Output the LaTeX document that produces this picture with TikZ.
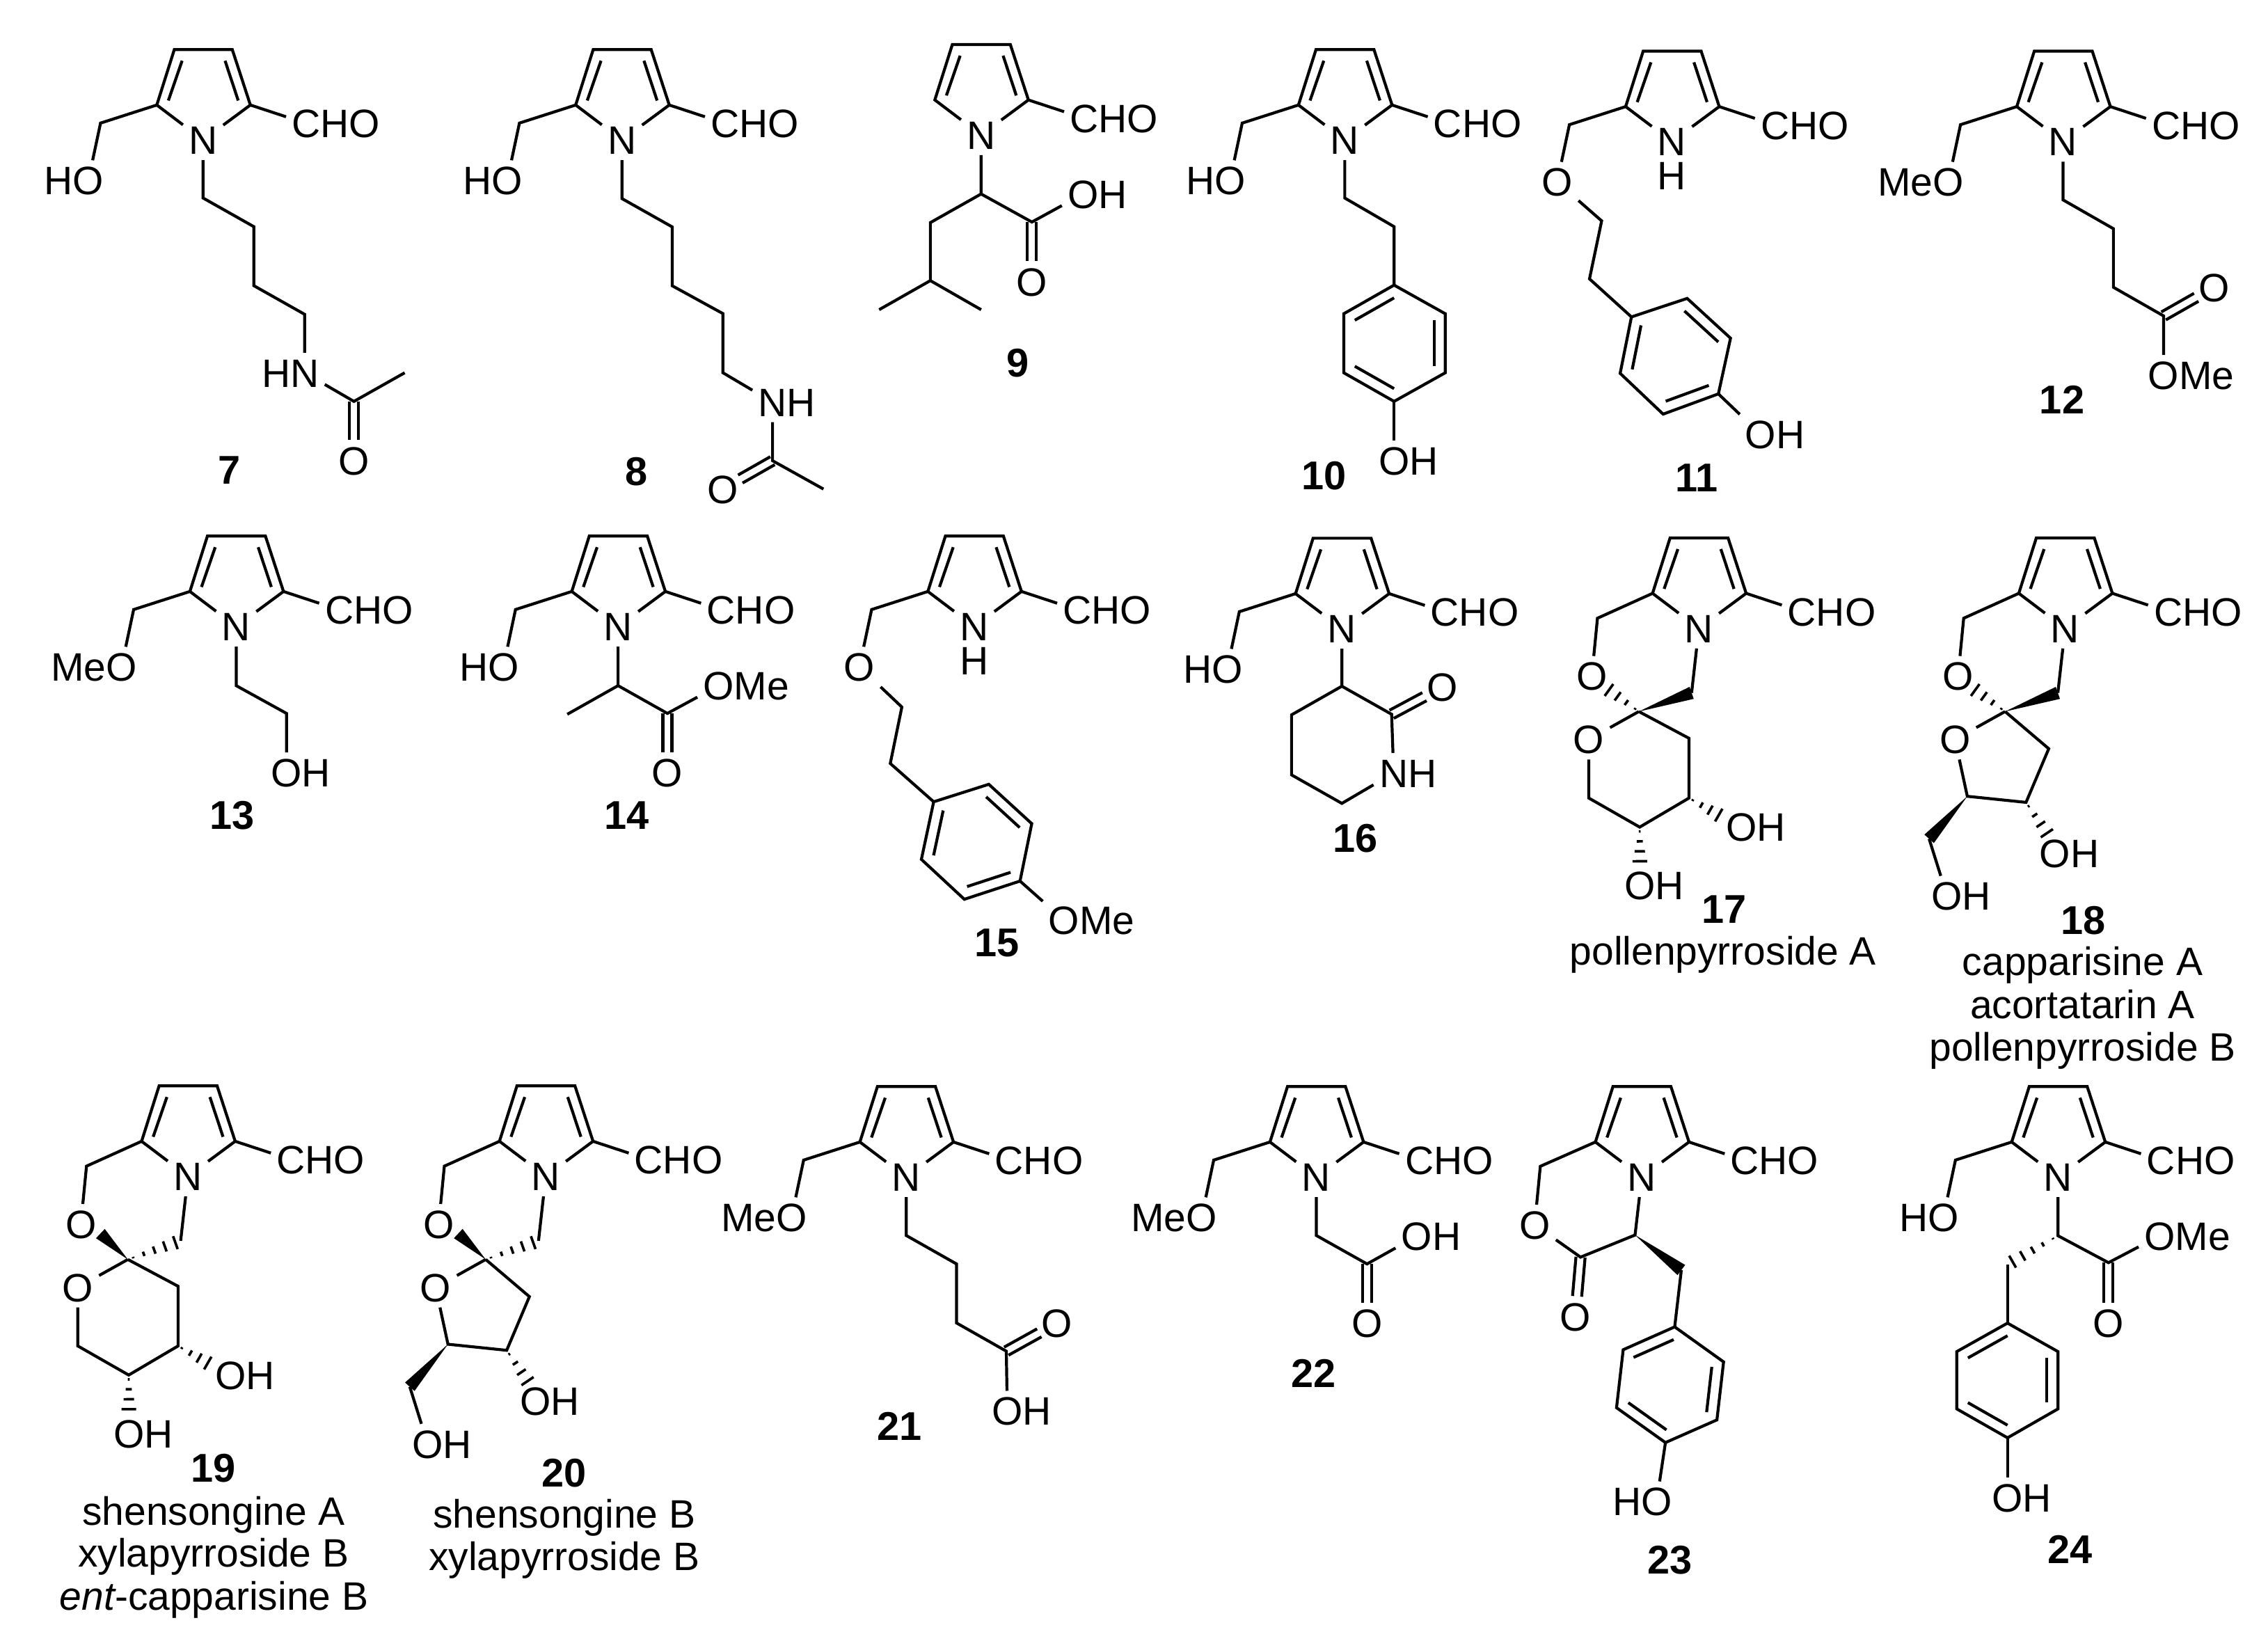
\documentclass[tikz,border=0pt]{standalone}
\usepackage{fontspec}
\setmainfont{Liberation Sans}
\usetikzlibrary{calc}
\tikzset{
  bond/.style={line width=1.15pt,black},
  hashline/.style={line width=1pt,black},
  atm/.style={font=\fontsize{15.6}{18}\selectfont,text height=11.2pt,text depth=0pt,inner sep=2.3pt,outer sep=0pt},
  cpd/.style={font=\fontsize{15.8}{18}\selectfont\bfseries,text height=11.2pt,text depth=0pt,inner sep=0pt},
  nm/.style={font=\fontsize{15.6}{18}\selectfont,anchor=base,inner sep=0pt}
}
\newcommand\vtx[2]{\coordinate (#1) at (#2);}
\newcommand\atm[3]{\node[atm] (#1) at (#2) {#3};}
\newcommand\dbl[2]{%
  \draw[bond,shorten >=8pt] ($(#1)!1.8pt!90:(#2)$) -- ($(#2)!1.8pt!-90:(#1)$);
  \draw[bond,shorten >=8pt] ($(#1)!1.8pt!-90:(#2)$) -- ($(#2)!1.8pt!90:(#1)$);}
\newcommand\wedgebond[2]{\fill[black] (#1) -- ($(#2)!2.5pt!90:(#1)$) -- ($(#2)!2.5pt!-90:(#1)$) -- cycle;}
\newcommand\hashbond[3][.12,.4,.68,.96]{%
  \foreach \hh in {#1}{%
    \pgfmathsetlengthmacro\hw{\hh*3pt}%
    \draw[hashline] ($(#2)!\hh!(#3)!\hw!90:(#3)$) -- ($(#2)!\hh!(#3)!\hw!-90:(#3)$);}}
\newcommand\lowH{\llap{\raisebox{-13.3pt}{H}}}
\newcommand\pyrrole[2][]{%
  \atm{#2N}{0,0}{N#1}
  \vtx{#2c2}{-32,-24.2}\vtx{#2c3}{-19.9,-62.5}\vtx{#2c4}{20.2,-62.5}\vtx{#2c5}{32.7,-24.2}
  \vtx{#2i1}{-14.5,-54.8}\vtx{#2i2}{-24,-27.3}\vtx{#2i3}{15.2,-54.8}\vtx{#2i4}{24.3,-27.3}
  \atm{#2cho}{71.3,-11.5}{C\rlap{HO}}
  \draw[bond] (#2N) -- (#2c2) -- (#2c3) -- (#2c4) -- (#2c5) -- (#2N);
  \draw[bond] (#2c5) -- (#2cho);
  \draw[bond] (#2i1) -- (#2i2);
  \draw[bond] (#2i3) -- (#2i4);}
\newcommand\arm[2]{%
  \vtx{#1ch}{-70.9,-11.7}
  \atm{#1oa}{-79.3,27.9}{\llap{#2}O}
  \draw[bond] (#1c2) -- (#1ch) -- (#1oa);}
\newcommand\benzene[7]{%
  \vtx{#1v1}{#2}\vtx{#1v2}{#3}\vtx{#1v3}{#4}\vtx{#1v4}{#5}\vtx{#1v5}{#6}\vtx{#1v6}{#7}
  \coordinate (#1ctr) at ($(#1v1)!.5!(#1v4)$);
  \draw[bond] (#1v1) -- (#1v2) -- (#1v3) -- (#1v4) -- (#1v5) -- (#1v6) -- cycle;
  \draw[bond] ($(#1v1)!.22!(#1ctr)$) -- ($(#1v6)!.22!(#1ctr)$);
  \draw[bond] ($(#1v2)!.22!(#1ctr)$) -- ($(#1v3)!.22!(#1ctr)$);
  \draw[bond] ($(#1v4)!.22!(#1ctr)$) -- ($(#1v5)!.22!(#1ctr)$);}
\newcommand\spirocore[1]{%
  \vtx{#1ch}{-70.1,-7}\vtx{#1sp}{-41.5,57.5}\vtx{#1chb}{-5,44.6}
  \vtx{#1he}{-63,42}\vtx{#1we}{-60.5,39.6}
  \atm{#1oa}{-74,33}{O}
  \atm{#1ro}{-76.1,76.8}{O}
  \draw[bond] (#1c2) -- (#1ch) -- (#1oa);
  \draw[bond] (#1N) -- (#1chb);
  \draw[bond] (#1sp) -- (#1ro);}
\newcommand\sixring[1]{%
  \vtx{#1r1}{-6.8,76}\vtx{#1r2}{-6.8,117.3}\vtx{#1r3}{-40.9,137.4}\vtx{#1r4}{-76.1,117.3}
  \vtx{#1e1}{14.6,129.6}\vtx{#1e2}{-40.8,162}
  \atm{#1oh1}{29.5,137.4}{O\rlap{H}}
  \atm{#1oh2}{-40.6,177.8}{O\rlap{H}}
  \draw[bond] (#1sp) -- (#1r1) -- (#1r2) -- (#1r3) -- (#1r4) -- (#1ro);
  \hashbond{#1r2}{#1e1}
  \hashbond{#1r3}{#1e2}}
\newcommand\fivering[1]{%
  \vtx{#1r1}{-11.3,83.2}\vtx{#1r2}{-27,120.3}\vtx{#1r3}{-67.6,116.1}\vtx{#1w}{-94,145.5}
  \vtx{#1e1}{-12,142.5}
  \atm{#1oh1}{-7,155.4}{O\rlap{H}}
  \atm{#1oh2}{-81.6,185}{O\rlap{H}}
  \draw[bond] (#1sp) -- (#1r1) -- (#1r2) -- (#1r3) -- (#1ro);
  \wedgebond{#1r3}{#1w}
  \draw[bond] (#1w) -- (#1oh2);
  \hashbond{#1r2}{#1e1}}
\begin{document}
\begin{tikzpicture}[x=0.02cm,y=-0.02cm]
\path[use as bounding box,fill=white] (0,0) rectangle (1568,1139.3);

% 7
\begin{scope}[shift={(140.4,96.8)}]
\pyrrole{m7}\arm{m7}{H}
\vtx{m7a}{0,40.1}\vtx{m7b}{35.1,59.9}\vtx{m7c}{35.1,100.7}\vtx{m7d}{70.2,120.5}
\vtx{m7e}{104.3,180.7}\vtx{m7f}{139.4,160.9}
\atm{m7n}{70.2,160.9}{\llap{H}N}
\atm{m7o}{104.3,221.5}{O}
\draw[bond] (m7N) -- (m7a) -- (m7b) -- (m7c) -- (m7d) -- (m7n);
\draw[bond] (m7n) -- (m7e) -- (m7f);
\dbl{m7e}{m7o}
\end{scope}
\node[cpd] (lab7) at (158.6,324.6) {7};

% 8
\begin{scope}[shift={(430,96.8)}]
\pyrrole{m8}\arm{m8}{H}
\vtx{m8a}{0,40.5}\vtx{m8b}{34.8,60.1}\vtx{m8c}{34.8,100.8}\vtx{m8d}{69.8,120}\vtx{m8e}{69.8,160.9}
\vtx{m8f}{104.1,221.7}\vtx{m8g}{139.3,241.3}
\atm{m8n}{104.1,181.2}{N\rlap{H}}
\atm{m8o}{69.6,241.3}{O}
\draw[bond] (m8N) -- (m8a) -- (m8b) -- (m8c) -- (m8d) -- (m8e) -- (m8n);
\draw[bond] (m8n) -- (m8f) -- (m8g);
\dbl{m8f}{m8o}
\end{scope}
\node[cpd] (lab8) at (440.2,325.8) {8};

% 9
\begin{scope}[shift={(678.3,93.3)}]
\pyrrole{m9}
\vtx{m9a}{0,40.8}\vtx{m9b}{35.1,60.2}\vtx{m9c}{-35.1,60.6}\vtx{m9d}{-35.1,100.7}
\vtx{m9e}{-70.5,120.8}\vtx{m9f}{0,120.8}
\atm{m9oh}{70.5,40.8}{O\rlap{H}}
\atm{m9o}{35.1,101.4}{O}
\draw[bond] (m9N) -- (m9a) -- (m9b) -- (m9oh);
\draw[bond] (m9a) -- (m9c) -- (m9d) -- (m9e);
\draw[bond] (m9d) -- (m9f);
\dbl{m9b}{m9o}
\end{scope}
\node[cpd] (lab9) at (703.9,250.6) {9};

% 10
\begin{scope}[shift={(929.7,96.8)}]
\pyrrole{m10}\arm{m10}{H}
\vtx{m10a}{0,40.1}\vtx{m10b}{34.1,59.9}
\benzene{m10}{34.1,100.3}{69.5,120.1}{69.5,160.9}{34.1,180.7}{-.7,160.9}{-.7,120.1}
\atm{m10oh}{34.1,221.5}{O\rlap{H}}
\draw[bond] (m10N) -- (m10a) -- (m10b) -- (m10v1);
\draw[bond] (m10v4) -- (m10oh);
\end{scope}
\node[cpd] (lab10) at (915.2,328.7) {10};

% 11
\begin{scope}[shift={(1155.9,97.9)}]
\pyrrole[\lowH]{m11}\arm{m11}{}
\vtx{m11a}{-48.6,54.8}\vtx{m11b}{-57,94.9}
\benzene{m11}{-28,121.2}{10.5,108.4}{40.5,135.9}{32.1,174.4}{-6.1,188.4}{-35.8,160.2}
\atm{m11oh}{61.4,202.4}{O\rlap{H}}
\draw[bond] (m11oa) -- (m11a) -- (m11b) -- (m11v1);
\draw[bond] (m11v4) -- (m11oh);
\end{scope}
\node[cpd] (lab11) at (1172.8,329.9) {11};

% 12
\begin{scope}[shift={(1426.3,97.9)}]
\pyrrole{m12}\arm{m12}{Me}
\vtx{m12a}{0,40.3}\vtx{m12b}{34.8,60.2}\vtx{m12c}{34.8,100.7}\vtx{m12d}{69.5,120.5}
\atm{m12o}{104.3,100.7}{O}
\atm{m12om}{69.5,161.3}{O\rlap{Me}}
\draw[bond] (m12N) -- (m12a) -- (m12b) -- (m12c) -- (m12d) -- (m12om);
\dbl{m12d}{m12o}
\end{scope}
\node[cpd] (lab12) at (1425.6,276.3) {12};

% 13
\begin{scope}[shift={(163.3,433.1)}]
\pyrrole{m13}\arm{m13}{Me}
\vtx{m13a}{0,40.9}\vtx{m13b}{34.8,60.1}
\atm{m13oh}{34.8,100.9}{O\rlap{H}}
\draw[bond] (m13N) -- (m13a) -- (m13b) -- (m13oh);
\end{scope}
\node[cpd] (lab13) at (160.3,563.2) {13};

% 14
\begin{scope}[shift={(427.3,433.1)}]
\pyrrole{m14}\arm{m14}{H}
\vtx{m14a}{0,40.9}\vtx{m14b}{-35.1,60.7}\vtx{m14c}{34.1,60.1}
\atm{m14om}{69.5,40.9}{O\rlap{Me}}
\atm{m14o}{34.1,100.9}{O}
\draw[bond] (m14N) -- (m14a) -- (m14b);
\draw[bond] (m14a) -- (m14c) -- (m14om);
\dbl{m14c}{m14o}
\end{scope}
\node[cpd] (lab14) at (433.3,563.2) {14};

% 15
\begin{scope}[shift={(673.5,433.1)}]
\pyrrole[\lowH]{m15}\arm{m15}{}
\vtx{m15a}{-50,55.7}\vtx{m15b}{-58,94.7}
\benzene{m15}{-28,121.2}{10.1,109.1}{39.8,136.3}{31.7,176}{-6.8,188.6}{-36.5,161}
\atm{m15om}{62.1,203}{O\rlap{Me}}
\draw[bond] (m15oa) -- (m15a) -- (m15b) -- (m15v1);
\draw[bond] (m15v4) -- (m15om);
\end{scope}
\node[cpd] (lab15) at (689.4,651.5) {15};

% 16
\begin{scope}[shift={(927.7,434.6)}]
\pyrrole{m16}\arm{m16}{H}
\vtx{m16a}{0,39.8}\vtx{m16b}{34.4,59.2}\vtx{m16c}{0,120.8}\vtx{m16d}{-34.8,101.1}\vtx{m16e}{-34.8,59.6}
\atm{m16o}{69.5,40.4}{O}
\atm{m16n}{35.8,99.8}{N\rlap{H}}
\draw[bond] (m16N) -- (m16a) -- (m16b) -- (m16n) -- (m16c) -- (m16d) -- (m16e) -- (m16a);
\dbl{m16b}{m16o}
\end{scope}
\node[cpd] (lab16) at (936.8,579.3) {16};

% 17
\begin{scope}[shift={(1174.5,434.4)}]
\pyrrole{m17}\spirocore{m17}\sixring{m17}
\wedgebond{m17sp}{m17chb}
\hashbond{m17sp}{m17he}
\end{scope}
\node[cpd] (lab17) at (1191.9,628.5) {17};
\node[nm] (nm17) at (1191.2,667.2) {pollenpyrroside A};

% 18
\begin{scope}[shift={(1427.7,434.4)}]
\pyrrole{m18}\spirocore{m18}\fivering{m18}
\wedgebond{m18sp}{m18chb}
\hashbond{m18sp}{m18he}
\end{scope}
\node[cpd] (lab18) at (1440.2,636) {18};
\node[nm] (nm18a) at (1439.8,674.1) {capparisine A};
\node[nm] (nm18b) at (1439.8,704) {acortatarin A};
\node[nm] (nm18c) at (1439.8,733.7) {pollenpyrroside B};

% 19
\begin{scope}[shift={(129.9,813.2)}]
\pyrrole{m19}\spirocore{m19}\sixring{m19}
\wedgebond{m19sp}{m19we}
\hashbond[.1,.3,.5,.7,.9]{m19sp}{m19chb}
\end{scope}
\node[cpd] (lab19) at (147.5,1014.9) {19};
\node[nm] (nm19a) at (147.6,1054.5) {shensongine A};
\node[nm] (nm19b) at (147.6,1083.2) {xylapyrroside B};
\node[nm] (nm19c) at (148,1112.9) {{\itshape ent}-capparisine B};

% 20
\begin{scope}[shift={(377.3,813.2)}]
\pyrrole{m20}\spirocore{m20}\fivering{m20}
\wedgebond{m20sp}{m20we}
\hashbond[.1,.3,.5,.7,.9]{m20sp}{m20chb}
\end{scope}
\node[cpd] (lab20) at (390.1,1017.9) {20};
\node[nm] (nm20a) at (390.1,1056.5) {shensongine B};
\node[nm] (nm20b) at (390.1,1085.7) {xylapyrroside B};

% 21
\begin{scope}[shift={(626.5,813.7)}]
\pyrrole{m21}\arm{m21}{Me}
\vtx{m21a}{0,40.4}\vtx{m21b}{34.8,60.1}\vtx{m21c}{34.8,100.9}\vtx{m21d}{69.2,120.4}
\atm{m21o}{104.3,100.9}{O}
\atm{m21oh}{69.9,161.7}{O\rlap{H}}
\draw[bond] (m21N) -- (m21a) -- (m21b) -- (m21c) -- (m21d) -- (m21oh);
\dbl{m21d}{m21o}
\end{scope}
\node[cpd] (lab21) at (622,985.9) {21};

% 22
\begin{scope}[shift={(910,813.7)}]
\pyrrole{m22}\arm{m22}{Me}
\vtx{m22a}{0,40.4}\vtx{m22b}{35.1,60.1}
\atm{m22oh}{69.5,40.9}{O\rlap{H}}
\atm{m22o}{35.1,100.9}{O}
\draw[bond] (m22N) -- (m22a) -- (m22b) -- (m22oh);
\dbl{m22b}{m22o}
\end{scope}
\node[cpd] (lab22) at (908.3,949.5) {22};

% 23
\begin{scope}[shift={(1135,813.7)}]
\pyrrole{m23}
\vtx{m23ch}{-70.1,-7.4}\vtx{m23co}{-42.3,55.4}\vtx{m23al}{-4.6,40.1}\vtx{m23w}{27.4,64.3}
\atm{m23oa}{-74,33}{O}
\atm{m23o}{-45.9,96.5}{O}
\atm{m23oh}{10.3,224.3}{\llap{H}O}
\benzene{m23}{22.8,103.6}{56.6,127.8}{52,167.9}{16.4,183.6}{-17.4,159.5}{-12.8,119.4}
\draw[bond] (m23c2) -- (m23ch) -- (m23oa) -- (m23co) -- (m23al) -- (m23N);
\dbl{m23co}{m23o}
\wedgebond{m23al}{m23w}
\draw[bond] (m23w) -- (m23v1);
\draw[bond] (m23v4) -- (m23oh);
\end{scope}
\node[cpd] (lab23) at (1154.5,1078.4) {23};

% 24
\begin{scope}[shift={(1422.8,813.7)}]
\pyrrole{m24}\arm{m24}{H}
\vtx{m24al}{0,40.6}\vtx{m24c}{34.9,59.2}\vtx{m24h}{-34.9,60.5}
\atm{m24om}{70.4,40.6}{O\rlap{Me}}
\atm{m24o}{34.9,101}{O}
\atm{m24oh}{-34.9,221.7}{O\rlap{H}}
\benzene{m24}{-34.9,101}{0,120.7}{0,160.3}{-34.9,180.3}{-70,160.3}{-70,120.7}
\draw[bond] (m24N) -- (m24al) -- (m24c) -- (m24om);
\dbl{m24c}{m24o}
\hashbond[.1,.3,.5,.7,.9]{m24al}{m24h}
\draw[bond] (m24h) -- (m24v1);
\draw[bond] (m24v4) -- (m24oh);
\end{scope}
\node[cpd] (lab24) at (1431.3,1071) {24};
\end{tikzpicture}
\end{document}
